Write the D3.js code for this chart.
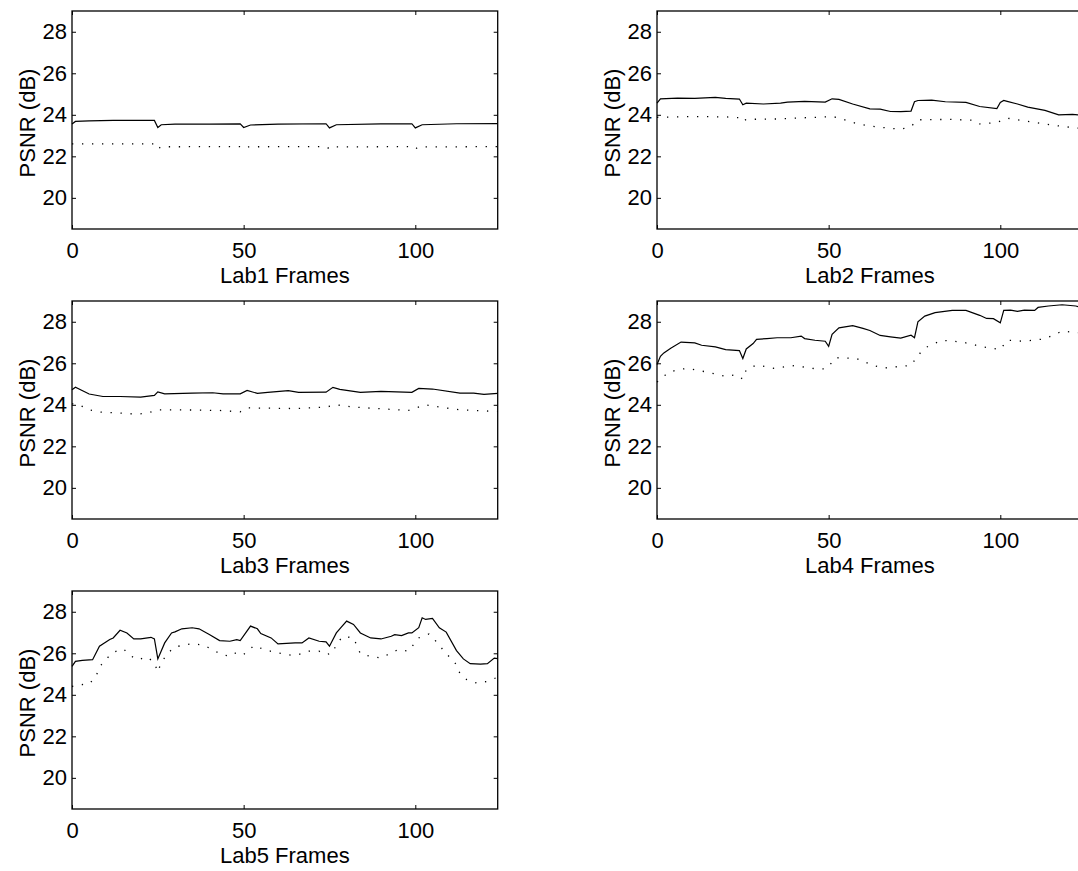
<!DOCTYPE html>
<html>
<head>
<meta charset="utf-8">
<script src="https://cdn.jsdelivr.net/npm/d3@7"></script>
<style>
  body { margin: 0; background: #fff; overflow: hidden; }
  svg { display: block; }
  text { font-family: "Liberation Sans", Arial, Helvetica, sans-serif; }
</style>
</head>
<body>
<div id="viz"></div>
<script>
// [frame, PSNR] pairs
var lab1Solid = [[0,23.56],[1,23.68],[5,23.71],[12,23.73],[20,23.73],[24,23.73],[25,23.39],[26,23.52],[30,23.55],[40,23.55],[49,23.56],[50,23.39],[52,23.51],[60,23.55],[74,23.57],[75,23.37],[77,23.52],[90,23.56],[99,23.57],[100,23.37],[102,23.52],[112,23.57],[124,23.58]]
var lab1Dotted = [[0,22.6],[24,22.6],[25,22.36],[26,22.46],[49,22.47],[50,22.38],[51,22.46],[74,22.47],[75,22.36],[76,22.45],[99,22.47],[100,22.36],[101,22.45],[124,22.47]]

var lab2Solid = [[0,24.56],[1,24.77],[6,24.8],[11,24.79],[17,24.84],[20,24.79],[24,24.76],[25,24.48],[26,24.56],[31,24.52],[36,24.56],[38,24.61],[43,24.65],[49,24.61],[51,24.77],[53,24.74],[57,24.52],[62,24.29],[65,24.27],[68,24.16],[71,24.15],[74,24.18],[75,24.63],[76,24.69],[80,24.71],[84,24.63],[90,24.6],[94,24.4],[99,24.3],[100,24.6],[101,24.69],[102,24.65],[105,24.52],[108,24.37],[113,24.21],[117,24.0],[121,24.02],[124,23.98]]
var lab2Dotted = [[0,23.88],[10,23.92],[20,23.9],[24,23.86],[25,23.68],[26,23.78],[35,23.8],[49,23.9],[51,23.92],[53,23.85],[57,23.63],[60,23.52],[63,23.44],[68,23.35],[71,23.3],[74,23.44],[76,23.76],[85,23.78],[92,23.74],[94,23.56],[99,23.63],[102,23.84],[107,23.71],[113,23.56],[118,23.44],[124,23.34]]

var lab3Solid = [[0,24.73],[1,24.85],[5,24.52],[9,24.4],[14,24.4],[20,24.37],[24,24.45],[25,24.62],[27,24.53],[35,24.56],[41,24.58],[44,24.53],[49,24.53],[51,24.69],[54,24.55],[57,24.6],[63,24.68],[66,24.6],[74,24.61],[76,24.84],[78,24.74],[84,24.6],[90,24.65],[99,24.6],[101,24.79],[105,24.76],[113,24.56],[117,24.56],[120,24.5],[124,24.55]]
var lab3Dotted = [[0,24.05],[2,24.0],[5,23.76],[8,23.65],[14,23.6],[19,23.55],[22,23.6],[25,23.76],[30,23.76],[43,23.73],[49,23.66],[51,23.85],[65,23.82],[74,23.89],[77,24.0],[82,23.89],[98,23.73],[103,24.0],[108,23.87],[113,23.76],[124,23.68]]

var lab4Solid = [[0,25.94],[1,26.34],[2,26.5],[4,26.72],[7,27.02],[11,26.98],[13,26.87],[17,26.79],[20,26.66],[24,26.61],[25,26.23],[26,26.69],[28,26.95],[29,27.15],[32,27.19],[35,27.23],[39,27.23],[42,27.31],[43,27.19],[46,27.11],[49,27.06],[50,26.82],[51,27.39],[53,27.71],[57,27.81],[60,27.68],[62,27.58],[65,27.34],[68,27.27],[71,27.21],[74,27.35],[75,27.23],[76,28.0],[78,28.27],[81,28.44],[86,28.55],[90,28.55],[94,28.31],[96,28.16],[98,28.15],[100,27.95],[101,28.55],[103,28.56],[105,28.5],[107,28.56],[110,28.55],[111,28.69],[114,28.76],[118,28.82],[122,28.76],[124,28.66]]
var lab4Dotted = [[0,25.1],[1,25.21],[3,25.53],[6,25.69],[9,25.76],[15,25.56],[20,25.37],[23,25.45],[25,25.24],[26,25.69],[29,25.92],[34,25.76],[40,25.89],[46,25.74],[49,25.73],[50,25.85],[52,26.27],[58,26.24],[63,25.89],[66,25.77],[74,25.9],[76,26.37],[78,26.74],[83,27.11],[89,27.02],[95,26.79],[100,26.66],[102,27.11],[107,27.06],[113,27.18],[118,27.55],[124,27.45]]

var lab5Solid = [[0,25.37],[1,25.61],[3,25.66],[6,25.69],[8,26.34],[11,26.66],[12,26.74],[14,27.11],[16,26.98],[18,26.69],[20,26.69],[23,26.77],[24,26.69],[25,25.73],[27,26.5],[29,26.98],[30,27.03],[32,27.18],[35,27.23],[37,27.18],[40,26.9],[43,26.61],[46,26.58],[48,26.66],[49,26.61],[52,27.31],[54,27.18],[55,26.95],[58,26.74],[60,26.45],[65,26.5],[67,26.5],[69,26.74],[72,26.58],[74,26.55],[75,26.34],[77,26.98],[78,27.18],[80,27.55],[82,27.39],[84,26.98],[87,26.74],[90,26.69],[93,26.82],[94,26.9],[96,26.85],[98,26.98],[99,26.98],[101,27.23],[102,27.71],[103,27.63],[105,27.68],[107,27.23],[109,27.02],[112,26.13],[114,25.73],[116,25.5],[119,25.48],[121,25.5],[123,25.77],[124,25.74]]
var lab5Dotted = [[0,24.4],[2,24.48],[5,24.52],[7,24.89],[8,25.34],[10,25.73],[12,26.05],[15,26.21],[17,25.89],[19,25.69],[22,25.82],[24,25.53],[25,25.1],[26,25.56],[28,26.02],[30,26.31],[32,26.37],[35,26.47],[38,26.4],[41,26.18],[43,25.98],[46,25.85],[48,26.05],[50,25.94],[53,26.37],[56,26.18],[59,26.05],[64,25.9],[66,25.94],[69,26.1],[72,26.1],[74,25.94],[76,26.02],[77,26.45],[79,26.82],[82,26.74],[84,25.98],[87,25.85],[90,25.77],[93,26.02],[95,26.18],[98,26.1],[101,26.74],[104,26.93],[106,26.58],[108,26.18],[110,25.81],[112,25.45],[113,25.02],[115,24.73],[118,24.56],[121,24.65],[124,24.85]]

var labNames = ['Lab1', 'Lab2', 'Lab3', 'Lab4', 'Lab5']
var xTicks = [0, 50, 100]
var yTicks = [20, 22, 24, 26, 28]
var xDomain = [0, 124]
var yDomain = [18.5, 29]

var panels = [
  {name: labNames[0], solid: lab1Solid, dotted: lab1Dotted},
  {name: labNames[1], solid: lab2Solid, dotted: lab2Dotted},
  {name: labNames[2], solid: lab3Solid, dotted: lab3Dotted},
  {name: labNames[3], solid: lab4Solid, dotted: lab4Dotted},
  {name: labNames[4], solid: lab5Solid, dotted: lab5Dotted}
]

var W = 1078, H = 871
var plotW = 425.7, plotH = 218
var fontSize = 22

var svg = d3.select('#viz').append('svg')
  .attr('width', W)
  .attr('height', H)

var x = d3.scaleLinear().domain(xDomain).range([0, plotW])
var y = d3.scaleLinear().domain(yDomain).range([plotH, 0])

var line = d3.line()
  .x(function(d) { return x(d[0]) })
  .y(function(d) { return y(d[1]) })

panels.forEach(function(p, i) {
  var col = i % 2, row = Math.floor(i / 2)
  var left = 72 + col * 585, top = 11 + row * 290

  var g = svg.append('g')
    .attr('transform', 'translate(' + left + ',' + top + ')')

  g.append('path')
    .datum(p.dotted)
    .attr('d', line)
    .attr('fill', 'none')
    .attr('stroke', '#000')
    .attr('stroke-width', 1.3)
    .attr('stroke-dasharray', '1.3,8.7')

  g.append('path')
    .datum(p.solid)
    .attr('d', line)
    .attr('fill', 'none')
    .attr('stroke', '#000')
    .attr('stroke-width', 1.2)

  // ticks on all four sides, pointing in
  g.append('g').attr('transform', 'translate(0,' + plotH + ')')
    .call(d3.axisBottom(x).tickValues(xTicks).tickSizeInner(-4).tickSizeOuter(0).tickPadding(13))
  g.append('g')
    .call(d3.axisTop(x).tickValues(xTicks).tickSizeInner(-4).tickSizeOuter(0).tickFormat(''))
  g.append('g')
    .call(d3.axisLeft(y).tickValues(yTicks).tickSizeInner(-4).tickSizeOuter(0).tickPadding(5))
  g.append('g').attr('transform', 'translate(' + plotW + ',0)')
    .call(d3.axisRight(y).tickValues(yTicks).tickSizeInner(-4).tickSizeOuter(0).tickFormat(''))

  g.selectAll('.domain').remove()
  g.selectAll('.tick line').attr('stroke', '#000').attr('stroke-width', 1)
  g.selectAll('.tick text')
    .attr('font-size', fontSize)
    .attr('font-family', '"Liberation Sans", Arial, sans-serif')
    .attr('fill', '#000')

  g.append('rect')
    .attr('width', plotW)
    .attr('height', plotH)
    .attr('fill', 'none')
    .attr('stroke', '#000')
    .attr('stroke-width', 1.3)

  g.append('text')
    .attr('x', plotW / 2)
    .attr('y', plotH + 54)
    .attr('text-anchor', 'middle')
    .attr('font-size', fontSize)
    .text(p.name + ' Frames')

  g.append('text')
    .attr('transform', 'translate(-37,' + (plotH / 2 + 3) + ') rotate(-90)')
    .attr('text-anchor', 'middle')
    .attr('font-size', fontSize)
    .text('PSNR (dB)')
})
</script>
</body>
</html>
